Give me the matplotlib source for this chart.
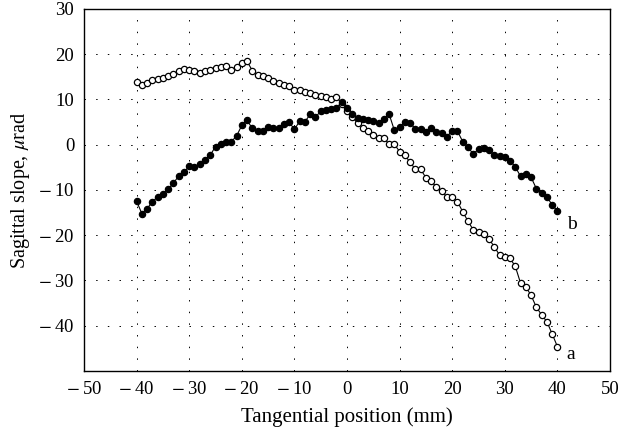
import matplotlib
matplotlib.use('Agg')
import matplotlib.pyplot as plt
import numpy as np

# フォント設定（セリフ体）
plt.rcParams['font.family'] = ['Liberation Serif', 'DejaVu Serif']
plt.rcParams['mathtext.fontset'] = 'stix'

# データ
positions = list(range(-40, 41))

slope_a = [13.8, 13.2, 13.6, 14.3, 14.5, 14.7, 15.2, 15.7, 16.3, 16.7,
           16.6, 16.2, 15.9, 16.3, 16.6, 17.0, 17.2, 17.3, 16.5, 17.2,
           18.0, 18.4, 16.4, 15.4, 15.1, 14.8, 14.1, 13.6, 13.2, 13.0,
           12.1, 12.0, 11.7, 11.4, 10.9, 10.8, 10.5, 10.1, 10.5, 9.1,
           7.5, 6.2, 4.7, 3.8, 3.0, 2.1, 1.5, 1.5, 0.1, 0.1,
           -1.5, -2.3, -3.9, -5.4, -5.4, -7.3, -8.0, -9.4, -10.2, -11.6,
           -11.6, -12.6, -14.8, -16.9, -18.8, -19.3, -19.7, -20.9, -22.5, -24.4,
           -24.9, -25.1, -26.9, -30.6, -31.4, -33.3, -35.9, -37.6, -39.1, -41.8,
           -44.6]

slope_b = [-12.5, -15.2, -14.1, -12.6, -11.5, -10.8, -9.8, -8.5, -6.9, -6.0,
           -4.8, -5.0, -4.3, -3.3, -2.3, -0.4, 0.1, 0.7, 0.7, 1.9,
           4.3, 5.4, 3.6, 3.0, 3.0, 3.9, 3.7, 3.6, 4.6, 5.0,
           3.4, 5.2, 5.1, 6.7, 6.1, 7.4, 7.7, 7.9, 8.1, 9.4,
           8.1, 6.8, 5.9, 5.7, 5.4, 5.2, 4.9, 5.6, 6.8, 3.2,
           3.9, 5.0, 4.8, 3.5, 3.4, 2.8, 3.7, 2.8, 2.6, 1.8,
           3.1, 3.0, 0.7, -0.6, -2.0, -1.0, -0.7, -1.2, -2.3, -2.4,
           -2.8, -3.5, -4.9, -7.0, -6.4, -7.2, -9.7, -10.7, -11.5, -13.3,
           -14.6]

x_ticks = [-50, -40, -30, -20, -10, 0, 10, 20, 30, 40, 50]
y_ticks = [-40, -30, -20, -10, 0, 10, 20, 30]


def tick_text(v):
    # 幅の広いマイナス記号（STIX）＋細い空白
    return r'$-$' + '\u2009' + str(abs(v)) if v < 0 else str(v)


fig = plt.figure(figsize=(6.25, 4.38), dpi=100)
ax = fig.add_axes([0.1344, 0.153, 0.8416, 0.8265])

# 系列 a（白抜き）と b（塗りつぶし）
ax.plot(positions, slope_a, color='black', linewidth=0.8, marker='o',
        markersize=4.5, markerfacecolor='white', markeredgecolor='black',
        markeredgewidth=0.9)
ax.plot(positions, slope_b, color='black', linewidth=0.8, marker='o',
        markersize=4.5, markerfacecolor='black', markeredgecolor='black',
        markeredgewidth=0.9)

ax.text(42.6, -46.4, 'a', fontsize=14, ha='center', va='center')
ax.text(42.8, -17.7, 'b', fontsize=14, ha='center', va='center')

ax.set_xlim(-50, 50)
ax.set_ylim(-50, 30)
ax.set_xticks(x_ticks)
ax.set_xticklabels([tick_text(v) for v in x_ticks])
ax.set_yticks(y_ticks)
ax.set_yticklabels([tick_text(v) for v in y_ticks])
ax.tick_params(length=0, labelsize=13.5, pad=7)
ax.grid(True, color='black', linewidth=0.7, linestyle=(0, (1.5, 10.5)))

for s in ax.spines.values():
    s.set_linewidth(1.0)

ax.set_xlabel('Tangential position (mm)', fontsize=15, labelpad=7)
ax.set_ylabel(r'Sagittal slope, $\mu$rad', fontsize=14.5)
ax.yaxis.set_label_coords(-0.098, 0.5)

plt.savefig('out.png', dpi=100)
